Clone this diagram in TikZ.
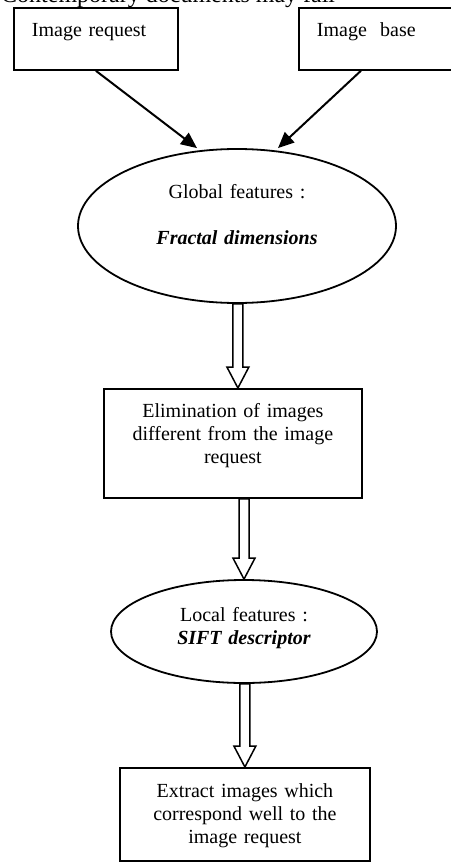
\documentclass[tikz,border=0pt]{standalone}
\usepackage{fontspec}
\setmainfont{Liberation Serif}
\usetikzlibrary{arrows.meta,shapes.geometric,calc}

\tikzset{
  box/.style={draw, line width=1.8pt, inner sep=0pt, anchor=north west,
              font=\fontsize{20}{23}\selectfont},
  oval/.style={draw, ellipse, line width=1.8pt, inner sep=0pt, align=center,
               font=\fontsize{20}{23}\selectfont},
  feed/.style={line width=2pt, -{Triangle[length=16pt,width=14pt]}},
  hollow/.style={draw, line width=1.5pt, fill=white, line join=miter}
}
% open block arrow, vertical at the x of the target
\newcommand{\hollowarrow}[2]{%
  \path[hollow] let \p1=(#1), \p2=(#2) in
    (\x2-5pt,\y1) -- (\x2-5pt,\y2+21pt) -- (\x2-11pt,\y2+21pt) -- (\x2,\y2)
    -- (\x2+11pt,\y2+21pt) -- (\x2+5pt,\y2+21pt) -- (\x2+5pt,\y1) -- cycle;}

\begin{document}
\begin{tikzpicture}[x=1pt, y=-1pt]
  \useasboundingbox (0,0) rectangle (450,864);
  % cut-off line of the page above
  \node[anchor=base west, inner sep=0pt, font=\fontsize{24}{24}\selectfont] (head) at (1,3)
    {Contemporary documents may fail};
  % inputs
  \node[box, text width=128pt, inner xsep=18pt, align=left,
        text height=29pt, text depth=33pt] (req) at (13,7) {Image request};
  \node[box, text width=128pt, inner xsep=18pt, align=left,
        text height=29pt, text depth=33pt] (base) at (298,7) {Image\ \ base};
  % global step
  \node[oval, minimum width=318pt, minimum height=154pt, text width=180pt,
        text height=20pt, text depth=76pt] (glob) at (237,226)
    {Global features :\\[23pt]\textbf{\textit{Fractal dimensions}}};
  \node[box, text width=258pt, align=center,
        text height=29pt, text depth=80pt] (elim) at (103,388)
    {Elimination of images\\different from the image\\request};
  % local step
  \node[oval, minimum width=266pt, minimum height=103pt, text width=140pt,
        text height=20pt, text depth=41pt] (loc) at (244,631.5)
    {Local features :\\\textbf{\textit{SIFT descriptor}}};
  \node[box, text width=250pt, align=center,
        text height=30pt, text depth=63pt] (extr) at (119,767)
    {Extract images which\\correspond well to the\\image request};

  \draw[feed] (req.south) -- ([xshift=-40pt]glob.north);
  \draw[feed] ([xshift=-20pt]base.south) -- ([xshift=41pt]glob.north);
  \hollowarrow{glob.south}{[xshift=5pt]elim.north}
  \hollowarrow{elim.south}{loc.north}
  \hollowarrow{loc.south}{extr.north}
\end{tikzpicture}
\end{document}
